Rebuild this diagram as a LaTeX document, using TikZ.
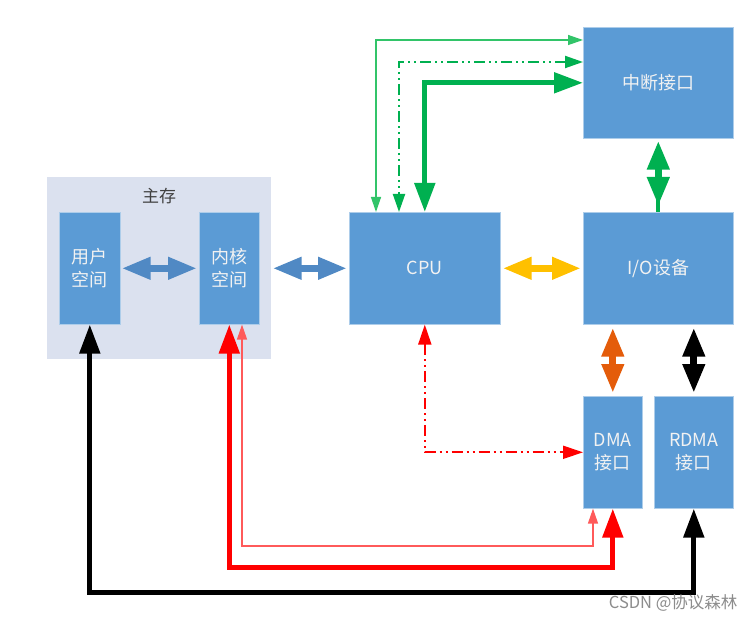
\documentclass[tikz,border=0pt]{standalone}
\usepackage{fontspec}
\newfontfamily\cjk{Noto Sans CJK SC}
\usetikzlibrary{arrows.meta,calc}
\definecolor{boxblue}{RGB}{91,155,213}
\definecolor{memgray}{RGB}{219,225,239}
\definecolor{arrblue}{RGB}{80,137,196}
\definecolor{grn}{RGB}{0,176,80}
\definecolor{lgrn}{RGB}{50,196,105}
\definecolor{yel}{RGB}{255,192,0}
\definecolor{org}{RGB}{228,92,10}
\definecolor{lred}{RGB}{255,90,90}
\definecolor{boxtext}{RGB}{242,242,242}
\begin{document}
\begin{tikzpicture}[x=1pt,y=-1pt,
  box/.style={fill=boxblue, draw=white!50!boxblue, line width=0.6pt, text=boxtext, inner sep=0pt, align=center,
    anchor=north west, font={\cjk\fontsize{18}{23}\selectfont}},
  blockarr/.style={line width=7pt, {Triangle[length=29pt,width=21pt]}-{Triangle[length=29pt,width=21pt]}},
  thinarr/.style={line width=1.3pt, {Triangle[length=15pt,width=10pt]}-{Triangle[length=15pt,width=10pt]}},
  dasharr/.style={line width=2pt, dash pattern=on 11pt off 4pt on 2pt off 4pt on 2pt off 4pt,
    {Triangle[length=18pt,width=12pt]}-{Triangle[length=18pt,width=12pt]}},
  thickarr/.style={line width=5pt, {Triangle[length=29pt,width=20pt]}-{Triangle[length=29pt,width=20pt]}}
]
\useasboundingbox (0,0) rectangle (755,620);
\fill[white] (0,0) rectangle (755,620);

% main memory background
\node[fill=memgray, anchor=north west, minimum width=224pt, minimum height=182pt, inner sep=0pt] (mem) at (47,177) {};
\node[text=black!75, font={\cjk\fontsize{17}{20}\selectfont}] (memlabel) at (159,196) {主存};

% boxes
\node[box, minimum width=61pt, minimum height=112pt] (yh) at (59,212) {用户\\空间};
\node[box, minimum width=60pt, minimum height=112pt] (nh) at (199,212) {内核\\空间};
\node[box, minimum width=151pt, minimum height=112pt] (cpu) at (349,212) {CPU};
\node[box, minimum width=150pt, minimum height=112pt] (io) at (583,212) {I/O设备};
\node[box, minimum width=150pt, minimum height=111pt] (zd) at (583,27) {中断接口};
\node[box, minimum width=59pt, minimum height=112pt] (dma) at (583,396) {DMA\\接口};
\node[box, minimum width=79pt, minimum height=112pt] (rdma) at (654,396) {RDMA\\接口};

% block double arrows
\draw[blockarr, arrblue] ($(yh.east)+(1,0)$) -- ($(nh.west)+(-2,0)$);
\draw[blockarr, arrblue] ($(nh.east)+(13,0)$) -- ($(cpu.west)+(-2,0)$);
\draw[blockarr, yel] ($(cpu.east)+(2,0)$) -- ($(io.west)+(-2,0)$);
\draw[blockarr, grn] ($(zd.south)+(0,2)$) -- ($(io.north)+(0,-6)$);
\draw[grn, line width=4pt] ($(io.north)+(0,-12)$) -- (io.north);
\draw[blockarr, org] ($(io.south -| dma.north)+(0,3)$) -- ($(dma.north)+(0,-3)$);
\draw[blockarr, black] ($(io.south -| rdma.north)+(0,3)$) -- ($(rdma.north)+(0,-3)$);

% green CPU <-> interrupt
\draw[thinarr, lgrn] ($(zd.north west)+(0,13)$) -| ($(cpu.north west)+(27,0)$);
\draw[dasharr, grn] ($(zd.north west)+(0,35)$) -| ($(cpu.north west)+(50,0)$);
\draw[thickarr, grn] (zd.west) -| (cpu.north);

% red CPU <-> DMA
\draw[red, line width=2pt, dash pattern=on 11pt off 4pt on 2pt off 4pt on 2pt off 4pt,
  {Triangle[length=20pt,width=13pt]}-{Triangle[length=20pt,width=13pt]}] (cpu.south) |- (dma.west);

% red kernel <-> DMA, black user <-> RDMA
\coordinate (rthin) at (0,546);
\coordinate (rthick) at (0,567);
\coordinate (bk) at (0,592);
\coordinate (nhthin) at ($(nh.south west)+(43,0)$);
\coordinate (dmathin) at ($(dma.south west)+(10,0)$);
\draw[thinarr, lred] (nhthin) -- (nhthin |- rthin) -| (dmathin);
\draw[thickarr, red] (nh.south) -- (nh.south |- rthick) -| (dma.south);
\draw[thickarr, black] (yh.south) -- (yh.south |- bk) -| (rdma.south);

% watermark
\node[anchor=east, text=black!45, font={\cjk\fontsize{16.5}{18}\selectfont}] (wm) at (741,603) {CSDN @协议森林};
\end{tikzpicture}
\end{document}
